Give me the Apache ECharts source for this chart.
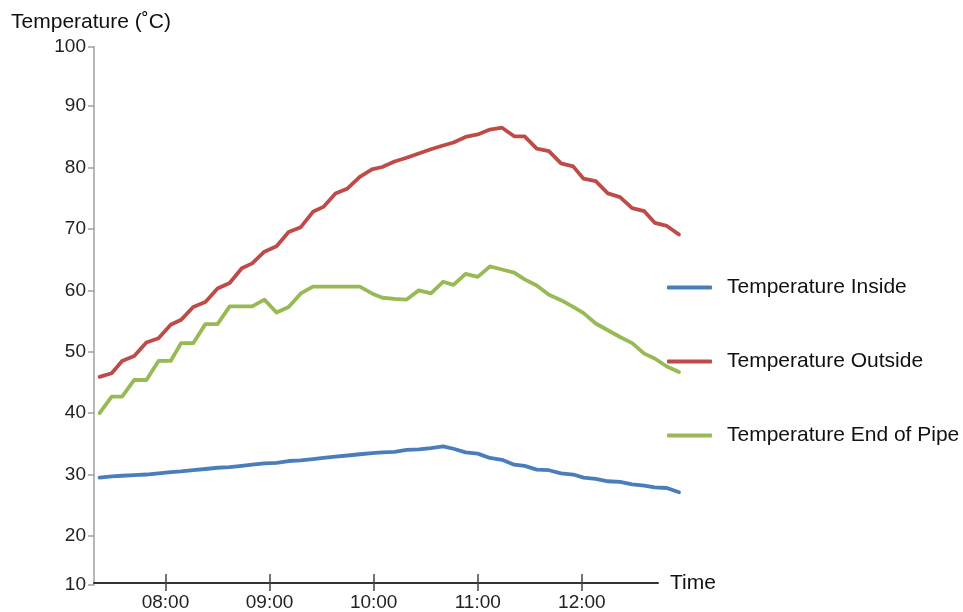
<!DOCTYPE html>
<html>
<head>
<meta charset="utf-8">
<script src="https://cdn.jsdelivr.net/npm/echarts@6/dist/echarts.min.js"></script>
<style>
  html, body { margin: 0; padding: 0; background: #ffffff; }
  #chart { width: 963px; height: 612px; }
</style>
</head>
<body>
<div id="chart"></div>
<script>
// ---- data ----
const times = ['07:22','07:29','07:35','07:42','07:49','07:56','08:03','08:09','08:16','08:23',
               '08:30','08:37','08:44','08:50','08:57','09:04','09:11','09:18','09:25','09:31',
               '09:38','09:45','09:52','09:59','10:05','10:12','10:19','10:26','10:33','10:40',
               '10:46','10:53','11:00','11:07','11:14','11:21','11:27','11:34','11:41','11:48',
               '11:55','12:01','12:08','12:15','12:22','12:29','12:36','12:42','12:49','12:56'];

const tempInside = [29.5, 29.7, 29.8, 29.9, 30.0, 30.2, 30.4, 30.5, 30.7, 30.9,
                    31.1, 31.2, 31.4, 31.6, 31.8, 31.9, 32.2, 32.3, 32.5, 32.7,
                    32.9, 33.1, 33.3, 33.5, 33.6, 33.7, 34.0, 34.1, 34.3, 34.6,
                    34.2, 33.6, 33.4, 32.7, 32.4, 31.6, 31.4, 30.8, 30.7, 30.2,
                    30.0, 29.5, 29.3, 28.9, 28.8, 28.4, 28.2, 27.9, 27.8, 27.1];

const tempOutside = [45.9, 46.5, 48.5, 49.3, 51.5, 52.2, 54.4, 55.2, 57.3, 58.1,
                     60.3, 61.2, 63.6, 64.4, 66.3, 67.2, 69.5, 70.3, 72.8, 73.6,
                     75.8, 76.6, 78.5, 79.7, 80.1, 81.0, 81.6, 82.3, 83.0, 83.6,
                     84.1, 85.0, 85.4, 86.2, 86.5, 85.1, 85.1, 83.1, 82.7, 80.7,
                     80.2, 78.2, 77.8, 75.8, 75.2, 73.4, 72.9, 71.0, 70.5, 69.1];

const tempPipeEnd = [40.0, 42.7, 42.7, 45.4, 45.4, 48.5, 48.5, 51.4, 51.4, 54.5,
                     54.5, 57.4, 57.4, 57.4, 58.5, 56.4, 57.3, 59.5, 60.6, 60.6,
                     60.6, 60.6, 60.6, 59.5, 58.8, 58.6, 58.5, 60.0, 59.5, 61.4,
                     60.9, 62.7, 62.2, 63.9, 63.4, 62.9, 61.8, 60.8, 59.3, 58.4,
                     57.3, 56.3, 54.6, 53.5, 52.4, 51.4, 49.7, 48.9, 47.6, 46.7];

const seriesNames = ['Temperature Inside', 'Temperature Outside', 'Temperature End of Pipe'];
const xTickLabels = ['08:00', '09:00', '10:00', '11:00', '12:00'];
const yTickValues = [12, 20, 30, 40, 50, 60, 70, 80, 90, 99.7];
const yTickLabels = ['10', '20', '30', '40', '50', '60', '70', '80', '90', '100'];
const xAxisRange = ['07:18.8', '12:43.9'];   // drawn time axis line
const xDataRange = ['07:18.8', '12:56.0'];   // plotting area reaches the last reading

// ---- helpers ----
function toMin(s) {
  const p = s.split(':');
  return parseInt(p[0], 10) * 60 + parseFloat(p[1]);
}
function fmtMin(v) {
  const h = Math.floor(v / 60), m = Math.round(v - h * 60);
  return String(h).padStart(2, '0') + ':' + String(m).padStart(2, '0');
}
const xTickValues = xTickLabels.map(toMin);
const FONT = "'Liberation Sans', Arial, sans-serif";
const colors = ['#4a7ebb', '#be4b48', '#98b954'];
const values = [tempInside, tempOutside, tempPipeEnd];

const chart = echarts.init(document.getElementById('chart'), null, { renderer: 'canvas' });

const GRID_LEFT = 94, GRID_TOP = 46.7, GRID_BOTTOM = 27;
// px per minute is the same in both grids: (963-284-94)/(776-438.8) == (963-305-94)/(763.9-438.8)

chart.setOption({
  animation: false,
  backgroundColor: '#ffffff',
  textStyle: { fontFamily: FONT },
  grid: [
    { left: GRID_LEFT, right: 284, top: GRID_TOP, bottom: GRID_BOTTOM, containLabel: false },
    { left: GRID_LEFT, right: 305, top: GRID_TOP, bottom: GRID_BOTTOM, containLabel: false }
  ],
  legend: {
    orient: 'vertical',
    left: 662,
    top: 270.5,
    itemWidth: 45,
    itemHeight: 4,
    itemGap: 50,
    icon: 'roundRect',
    data: seriesNames,
    textStyle: { fontSize: 21, color: '#111', fontFamily: FONT, lineHeight: 24, padding: [0, 0, 0, 10] }
  },
  xAxis: [
    { // data axis (hidden)
      gridIndex: 0, type: 'value',
      min: toMin(xDataRange[0]), max: toMin(xDataRange[1]),
      show: false, splitLine: { show: false }
    },
    { // visible time axis
      gridIndex: 1, type: 'value',
      min: toMin(xAxisRange[0]), max: toMin(xAxisRange[1]),
      splitLine: { show: false },
      name: 'Time',
      nameLocation: 'end',
      nameGap: 12,
      nameTextStyle: { fontSize: 21, color: '#111', fontFamily: FONT },
      axisLine: { show: true, lineStyle: { color: '#333', width: 2 } },
      axisTick: { show: true, length: 8, inside: false, customValues: xTickValues, lineStyle: { color: '#444', width: 1.5 } },
      axisLabel: { show: true, customValues: xTickValues, formatter: v => fmtMin(v), fontSize: 19, color: '#222', margin: 10, fontFamily: FONT }
    },
    { // inner half of the crossing ticks
      gridIndex: 1, type: 'value',
      min: toMin(xAxisRange[0]), max: toMin(xAxisRange[1]),
      position: 'bottom',
      splitLine: { show: false },
      axisLine: { show: false },
      axisTick: { show: true, length: 9, inside: true, customValues: xTickValues, lineStyle: { color: '#444', width: 1.5 } },
      axisLabel: { show: false }
    }
  ],
  yAxis: [
    {
      gridIndex: 0,
      type: 'value',
      min: yTickValues[0],
      max: yTickValues[yTickValues.length - 1],
      name: 'Temperature (˚C)',
      nameLocation: 'end',
      nameGap: 14,
      nameTextStyle: { fontSize: 21, color: '#111', fontFamily: FONT, align: 'center', padding: [0, 6, 0, 0] },
      splitLine: { show: false },
      axisLine: { show: true, lineStyle: { color: '#a0a0a0', width: 1.5 } },
      axisTick: { show: true, length: 6, customValues: yTickValues, lineStyle: { color: '#a0a0a0', width: 1.5 } },
      axisLabel: {
        show: true,
        customValues: yTickValues,
        formatter: v => {
          const i = yTickValues.findIndex(t => Math.abs(t - v) < 0.01);
          return i >= 0 ? yTickLabels[i] : '';
        },
        fontSize: 19, color: '#222', margin: 8, fontFamily: FONT
      }
    },
    {
      gridIndex: 1, type: 'value',
      min: yTickValues[0], max: yTickValues[yTickValues.length - 1],
      show: false, splitLine: { show: false }
    }
  ],
  series: seriesNames.map((name, k) => ({
    name: name,
    type: 'line',
    xAxisIndex: 0,
    yAxisIndex: 0,
    showSymbol: false,
    symbol: 'none',
    color: colors[k],
    lineStyle: { color: colors[k], width: 3.8, cap: 'round', join: 'round' },
    itemStyle: { color: colors[k] },
    data: times.map((t, i) => [toMin(t), values[k][i]])
  }))
});
</script>
</body>
</html>
